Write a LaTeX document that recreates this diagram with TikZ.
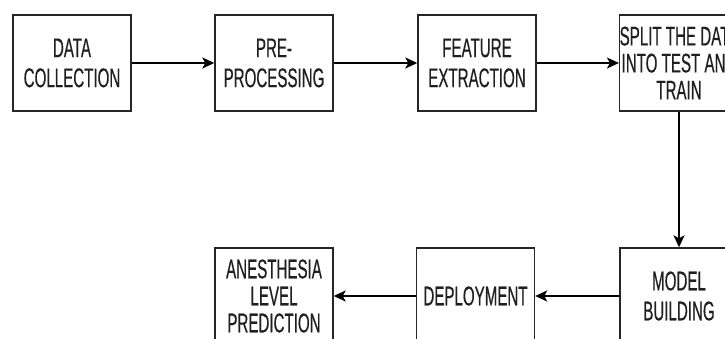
\documentclass[tikz,border=0pt]{standalone}
\usepackage{fontspec}
\setmainfont[FakeStretch=0.56,FakeBold=0.4]{Liberation Sans}
\usetikzlibrary{arrows.meta}
\begin{document}
\begin{tikzpicture}[x=1pt,y=-1pt,
  box/.style={draw=black!85,line width=1.4pt,minimum width=118pt,minimum height=96pt,
    inner sep=0pt,align=center,font=\fontsize{27}{30}\selectfont,text=black!88},
  tight/.style={font=\fontsize{27}{27}\selectfont},
  arr/.style={draw=black,line width=1.8pt,-{Stealth[length=12pt,width=11pt,inset=3pt]}}]
\useasboundingbox (0,0) rectangle (725,339);
\clip (0,0) rectangle (725,339);
\fill[white] (0,0) rectangle (725,339);
\node[box] (dc) at (72,63) {DATA\\COLLECTION};
\node[box] (pp) at (274,63) {PRE-\\PROCESSING};
\node[box] (fe) at (477,63) {FEATURE\\EXTRACTION};
\node[box,tight] (sp) at (679,63) {SPLIT THE DATA\\INTO TEST AND\\TRAIN};
\node[box] (mb) at (679,296) {MODEL\\BUILDING};
\node[box] (dp) at (475.5,296) {DEPLOYMENT};
\node[box,tight] (ap) at (274,296) {ANESTHESIA\\LEVEL\\PREDICTION};
\draw[arr] (dc) -- (pp);
\draw[arr] (pp) -- (fe);
\draw[arr] (fe) -- (sp);
\draw[arr] (sp) -- (mb);
\draw[arr] (mb) -- (dp);
\draw[arr] (dp) -- (ap);
\end{tikzpicture}
\end{document}
